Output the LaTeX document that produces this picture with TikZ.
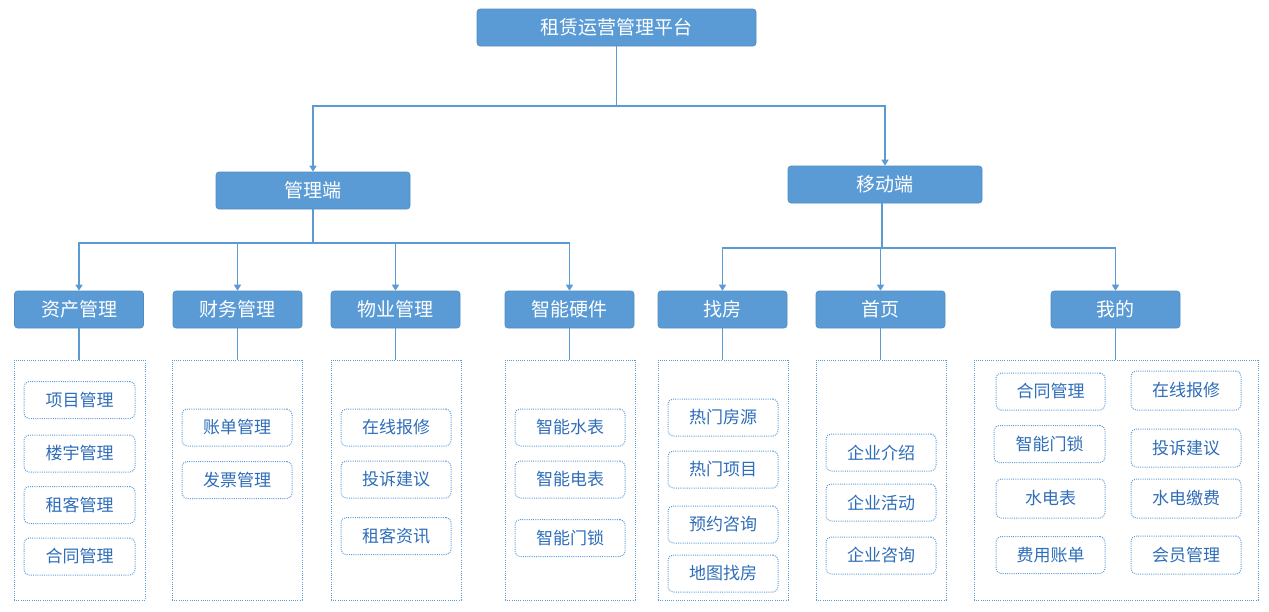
\documentclass[tikz,border=0pt]{standalone}
\usepackage{fontspec}
\newfontfamily\cjk{Noto Sans CJK SC}
\usetikzlibrary{arrows.meta}
\definecolor{boxblue}{HTML}{5B9BD5}
\definecolor{txtblue}{HTML}{2E6DB8}
\tikzset{
  mainbox/.style={draw=boxblue!90!black, line width=0.6pt, fill=boxblue, rounded corners=3pt, text=white, font=\cjk\fontsize{19}{22}\selectfont, inner sep=0pt},
  container/.style={draw=boxblue, line width=1pt, dash pattern=on 1pt off 1.2pt, inner sep=0pt},
  itembox/.style={draw=boxblue, line width=1pt, dash pattern=on 1pt off 1.2pt, rounded corners=5pt, text=txtblue, font=\cjk\fontsize{17}{20}\selectfont, inner sep=0pt, minimum width=110pt, minimum height=37pt},
  conn/.style={draw=boxblue, line width=1.5pt},
  arr/.style={conn, -{Triangle[width=7pt,length=6pt]}}
}
\begin{document}
\begin{tikzpicture}[x=1pt,y=-1pt]
\useasboundingbox (0,0) rectangle (1269,611);
% top
\node[mainbox, minimum width=279pt, minimum height=37pt] (top) at (616.5,27.5) {租赁运营管理平台};
\node[mainbox, minimum width=194pt, minimum height=37pt] (mgmt) at (313,190.5) {管理端};
\node[mainbox, minimum width=194pt, minimum height=37pt] (mob) at (885,184.5) {移动端};
% level 2
\foreach \n/\x/\t in {zc/79/资产管理, cw/237.5/财务管理, wy/395.5/物业管理, zn/569.5/智能硬件, zf/722.5/找房, sy/880.5/首页, wd/1115.5/我的}{
  \node[mainbox, minimum width=129pt, minimum height=37pt] (\n) at (\x,309.5) {\t};
}
% containers
\node[container, minimum width=131pt, minimum height=240pt] (czc) at (79.5,480) {};
\node[container, minimum width=130pt, minimum height=240pt] (ccw) at (237,480) {};
\node[container, minimum width=130pt, minimum height=240pt] (cwy) at (396,480) {};
\node[container, minimum width=130pt, minimum height=240pt] (czn) at (570,480) {};
\node[container, minimum width=130pt, minimum height=240pt] (czf) at (723,480) {};
\node[container, minimum width=130pt, minimum height=240pt] (csy) at (881,480) {};
\node[container, minimum width=284pt, minimum height=240pt] (cwd) at (1116,480) {};
% items
\node[itembox, minimum width=111pt] (a1) at (79.5,400) {项目管理};
\node[itembox, minimum width=111pt] (a2) at (79.5,453.5) {楼宇管理};
\node[itembox, minimum width=111pt] (a3) at (79.5,505) {租客管理};
\node[itembox, minimum width=111pt] (a4) at (79.5,556.5) {合同管理};
\node[itembox] (b1) at (237,427.5) {账单管理};
\node[itembox] (b2) at (237,480) {发票管理};
\node[itembox] (c1) at (396,427.5) {在线报修};
\node[itembox] (c2) at (396,479.5) {投诉建议};
\node[itembox] (c3) at (396,536) {租客资讯};
\node[itembox] (d1) at (570,427.5) {智能水表};
\node[itembox] (d2) at (570,479.5) {智能电表};
\node[itembox] (d3) at (570,538) {智能门锁};
\node[itembox] (e1) at (723,417.5) {热门房源};
\node[itembox] (e2) at (723,469.5) {热门项目};
\node[itembox] (e3) at (723,524.5) {预约咨询};
\node[itembox] (e4) at (723,573.5) {地图找房};
\node[itembox] (f1) at (881,452.5) {企业介绍};
\node[itembox] (f2) at (881,502.5) {企业活动};
\node[itembox] (f3) at (881,555.5) {企业咨询};
\node[itembox, minimum width=109pt] (g1) at (1050.5,391.5) {合同管理};
\node[itembox, minimum width=111pt] (g3) at (1049.5,444) {智能门锁};
\node[itembox, minimum width=109pt, minimum height=39pt] (g5) at (1050.5,498.5) {水电表};
\node[itembox, minimum width=109pt] (g7) at (1050.5,555) {费用账单};
\node[itembox, minimum height=39pt] (g2) at (1186,390.5) {在线报修};
\node[itembox, minimum height=38pt] (g4) at (1186,448) {投诉建议};
\node[itembox, minimum height=39pt] (g6) at (1186,498.5) {水电缴费};
\node[itembox, minimum height=38pt] (g8) at (1186,555) {会员管理};
% connectors
\coordinate (j0) at (top.south |- 0,106);
\draw[conn] (top.south) -- (j0);
\draw[arr] (j0) -| (mgmt.north);
\draw[arr] (j0) -| (mob.north);
\coordinate (j1) at (mgmt.south |- 0,243);
\draw[conn] (mgmt.south) -- (j1);
\foreach \n in {zc,cw,wy,zn}{\draw[arr] (j1) -| (\n.north);}
\coordinate (m0) at (882,203);
\coordinate (j2) at (882,248);
\draw[conn] (m0) -- (j2);
\foreach \n in {zf,sy,wd}{\draw[arr] (j2) -| (\n.north);}
\foreach \a/\b in {zc/czc,cw/ccw,wy/cwy,zn/czn,zf/czf,sy/csy,wd/cwd}{\draw[conn] (\a.south) -- (\a.south |- \b.north);}
\end{tikzpicture}
\end{document}
